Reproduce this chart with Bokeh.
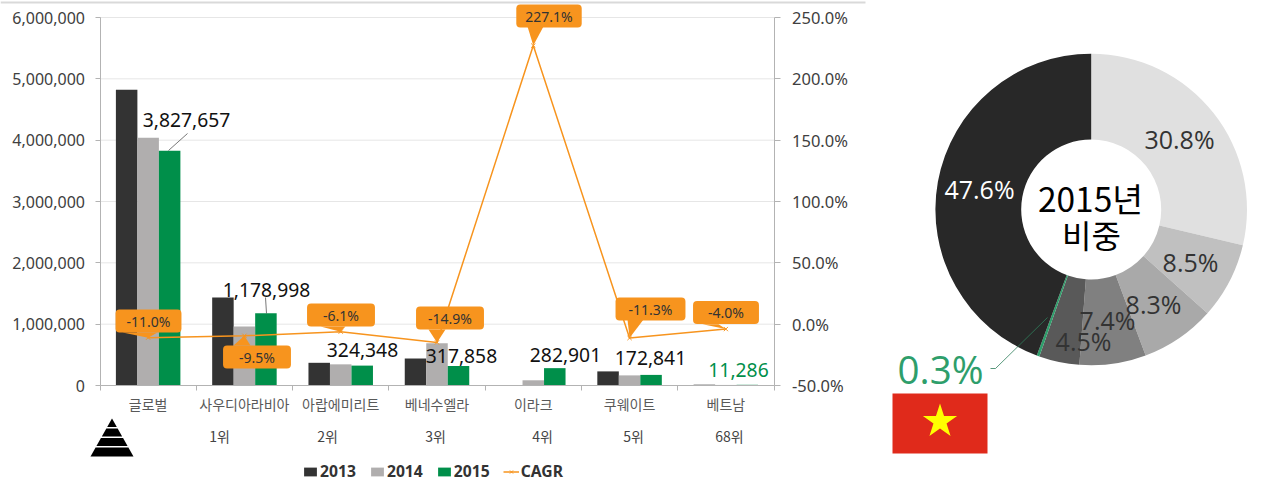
from bokeh.plotting import figure
from bokeh.models import (ColumnDataSource, Range1d, LinearAxis, FixedTicker, NumeralTickFormatter,
                          PrintfTickFormatter, Label, PolyAnnotation, Legend, LegendItem)
from bokeh.layouts import row
from bokeh.core.properties import value
from bokeh.embed import file_html
from bokeh.resources import INLINE
import math

categories = ["글로벌", "사우디아라비아", "아랍에미리트", "베네수엘라", "이라크", "쿠웨이트", "베트남"]
ranks = ["1위", "2위", "3위", "4위", "5위", "68위"]
v2013 = [4820000, 1435000, 370000, 440000, 0, 230000, 13000]
v2014 = [4040000, 960000, 345000, 690000, 85000, 165000, 9000]
v2015 = [3827657, 1178998, 324348, 317858, 282901, 172841, 11286]
cagr = [-11.0, -9.5, -6.1, -14.9, 227.1, -11.3, -4.0]
left_ticks = [0, 1000000, 2000000, 3000000, 4000000, 5000000, 6000000]
right_ticks = [-50, 0, 50, 100, 150, 200, 250]
share_labels = ["30.8%", "8.5%", "8.3%", "7.4%", "4.5%", "0.3%", "47.6%"]
shares = [30.8, 8.5, 8.3, 7.4, 4.5, 0.3, 47.6]

KR = "Noto Sans CJK KR"
LAT = "Noto Sans"
ORANGE = "#f7941e"
GREEN = "#008f4a"
AXC = "#b3b3b3"

# page-pixel geometry of the chart area; the figure's frame fills the whole canvas
FL, FR, FT, FB = 99.5, 773.5, 17, 385
W_L, H = 870, 490
pxu = (FR - FL) / 7
pyu = (FB - FT) / 6000000
pcu = (FB - FT) / 300
def X(px): return (px - FL) / pxu
def Y(py): return (FB - py) / pyu

p = figure(width=W_L, height=H, output_backend="svg", toolbar_location=None,
           x_range=Range1d(X(0), X(W_L)), y_range=Range1d(Y(H), Y(0)),
           min_border=0)
p.outline_line_color = None
p.extra_y_ranges = {"cagr": Range1d(-50 - (H - FB) / pcu, -50 + FB / pcu)}
p.grid.visible = False

# axes
ax = p.xaxis[0]
ax.fixed_location = 0
ax.bounds = (0, 7)
ax.ticker = FixedTicker(ticks=[i + 0.5 for i in range(7)], minor_ticks=list(range(8)))
ax.major_label_overrides = {i + 0.5: c for i, c in enumerate(categories)}
ax.major_tick_out = 0; ax.major_tick_in = 0
ax.minor_tick_out = 5; ax.minor_tick_in = 0
ax.minor_tick_line_color = AXC
ax.axis_line_color = AXC
ax.major_label_text_font = KR
ax.major_label_text_font_size = "14px"
ax.major_label_text_color = "#595959"
ax.major_label_standoff = 3
ay = p.yaxis[0]
ay.fixed_location = 0
ay.bounds = (0, 6000000)
ay.ticker = FixedTicker(ticks=left_ticks)
ay.formatter = NumeralTickFormatter(format="0,0")
ay.minor_tick_line_color = None
ay.major_tick_out = 5; ay.major_tick_in = 0
ay.major_tick_line_color = AXC
ay.axis_line_color = AXC
ay.major_label_text_font = LAT
ay.major_label_text_font_size = "16px"
ay.major_label_text_color = "#404040"
ay.major_label_standoff = 10
ar = LinearAxis(y_range_name="cagr", ticker=FixedTicker(ticks=right_ticks), fixed_location=7,
                bounds=(-50, 250), formatter=PrintfTickFormatter(format="%.1f%%"))
ar.minor_tick_line_color = None
ar.major_tick_out = 6; ar.major_tick_in = 0
ar.major_tick_line_color = AXC
ar.axis_line_color = AXC
ar.major_label_text_font = LAT
ar.major_label_text_font_size = "16.5px"
ar.major_label_text_color = "#404040"
ar.major_label_standoff = 12
p.add_layout(ar, "right")

# gridlines between the two value axes
p.segment(x0=[0] * 6, x1=[7] * 6, y0=left_ticks[1:], y1=left_ticks[1:], line_color="#e6e6e6", line_width=1, level="underlay")

# bars
centers = [i + 0.5 for i in range(7)]
bw = 21.5 / pxu
r13 = p.vbar(x=[c - bw for c in centers], top=v2013, width=bw, fill_color="#333333", line_color=None)
r14 = p.vbar(x=centers, top=v2014, width=bw, fill_color="#b0aeae", line_color=None)
r15 = p.vbar(x=[c + bw for c in centers], top=v2015, width=bw, fill_color=GREEN, line_color=None)

# CAGR line
rl = p.line(centers, cagr, y_range_name="cagr", line_color=ORANGE, line_width=1.5)
rm = p.scatter(centers, cagr, y_range_name="cagr", marker="x", size=6, line_color=ORANGE, line_width=1)

# leader lines for the value labels
p.segment(x0=[X(168), X(266)], y0=[Y(150), Y(313)], x1=[X(187), X(265)], y1=[Y(133), Y(297)],
          line_color="#555555", line_width=0.8)

# value labels
lab_px = [186, 266, 362, 461, 565, 650, 738]
lab_py = [119, 289, 349, 355, 354, 357, 369]
src = ColumnDataSource(dict(x=[X(a) for a in lab_px], y=[Y(b) for b in lab_py],
                            t=[f"{v:,}" for v in v2015],
                            c=["#111111"] * 6 + [GREEN]))
p.text(x="x", y="y", text="t", text_color="c", source=src, text_align="center", text_baseline="middle",
       text_font=value(LAT), text_font_size="19.3px", level="annotation")

# callouts: box centre and tail, tip sits on each CAGR point
tips_y = [FB - (c + 50) * pcu for c in cagr]
box_cx = [148, 256.5, 340.5, 449.5, 548.5, 650, 725.5]
box_cy = [320.5, 356.5, 314.5, 317.5, 15.5, 308.5, 312]
box_pad = [11, 16, 16, 12, 9, 13, 15]
tail_a = [(122, 332), (233, 345), (320, 326), (428, 329), (527, 26), (627, 319), (702, 323.7)]
tail_b = [(157, 332), (250, 345), (345, 326), (445, 329), (543, 26), (643, 319), (718, 323.7)]
for i, c in enumerate(cagr):
    tx, ty = FL + centers[i] * pxu, tips_y[i]
    a, b = tail_a[i], tail_b[i]
    p.add_layout(PolyAnnotation(xs=[X(a[0]), X(tx), X(b[0])], ys=[Y(a[1]), Y(ty), Y(b[1])],
                                fill_color=ORANGE, fill_alpha=1, line_color=None, level="overlay"))
    p.add_layout(Label(x=X(box_cx[i]), y=Y(box_cy[i]), text=f"{c:.1f}%", text_align="center", text_baseline="middle",
                       text_font=LAT, text_font_size="14px", text_color="#333333",
                       background_fill_color=ORANGE, background_fill_alpha=1, border_radius=4,
                       padding=(box_pad[i], 2), level="overlay"))

# rank row
rank_px = [219, 327, 435, 542, 633, 729]
for r, xp in zip(ranks, rank_px):
    p.add_layout(Label(x=X(xp), y=Y(435), text=r, text_align="center", text_baseline="middle",
                       text_font=KR, text_font_size="14px", text_color="#444444"))

# pyramid icon
for y0, y1 in [(418, 426.5), (428, 436), (437.5, 445.5), (447, 456)]:
    hw0 = (y0 - 418) * 21.5 / 38
    hw1 = (y1 - 418) * 21.5 / 38
    p.add_layout(PolyAnnotation(xs=[X(111.5 - hw0), X(111.5 + hw0), X(111.5 + hw1), X(111.5 - hw1)],
                                ys=[Y(y0), Y(y0), Y(y1), Y(y1)],
                                fill_color="#000000", fill_alpha=1, line_color=None))

# top rule
p.add_layout(PolyAnnotation(xs=[X(0), X(865), X(865), X(0)], ys=[Y(1), Y(1), Y(3), Y(3)],
                            fill_color="#d9d9d9", fill_alpha=1, line_color=None))

leg = Legend(items=[LegendItem(label="2013", renderers=[r13]), LegendItem(label="2014", renderers=[r14]),
                    LegendItem(label="2015", renderers=[r15]), LegendItem(label="CAGR", renderers=[rl, rm])],
             orientation="horizontal", location=(302, 8), background_fill_alpha=0, border_line_color=None,
             glyph_width=16, glyph_height=11, label_standoff=2, spacing=13, padding=0, margin=0,
             label_text_font=LAT, label_text_font_style="bold", label_text_font_size="15.7px",
             label_text_color="#333333")
p.add_layout(leg, "center")

# donut
W_R = 1279 - W_L
d = figure(width=W_R, height=H, output_backend="svg", toolbar_location=None,
           x_range=Range1d(W_L, 1279), y_range=Range1d(0, H),
           x_axis_location=None, y_axis_location=None, min_border=0)
d.grid.visible = False
d.outline_line_color = None
def YY(py): return H - py
CX, CY, RO, RI = 1090.7, 209, 155.8, 70
colors = ["#e0e0e0", "#c0c0c0", "#a9a9a9", "#808080", "#595959", "#2e9e6b", "#282828"]
total = sum(shares)
ang = [math.pi / 2]
for s in shares:
    ang.append(ang[-1] - 2 * math.pi * s / total)
d.annular_wedge(x=CX, y=YY(CY), inner_radius=RI, outer_radius=RO, start_angle=ang[:-1], end_angle=ang[1:],
                direction="clock", fill_color=colors, line_color=None)
d.line([1047, 995, 990], [YY(317), YY(368), YY(368)], line_color="#2e7d5b", line_width=0.8)
lab_x = [1179, 1190, 1153, 1107, 1083, 940, 979]
lab_y = [138, 261, 303, 319, 340, 368, 188]
lab_c = ["#333333"] * 5 + ["#2e9e6b", "#ffffff"]
lab_s = ["25px"] * 5 + ["38.5px", "25px"]
for t, a, b, c, s in zip(share_labels, lab_x, lab_y, lab_c, lab_s):
    d.text(x=[a], y=[YY(b)], text=[t], text_color=c, text_font=value("Open Sans"), text_font_size=s,
           text_align="center", text_baseline="middle")
d.text(x=[1090], y=[YY(197)], text=["2015년"], text_color="#000000",
       text_font=value(KR), text_font_size="33.5px", text_align="center", text_baseline="middle")
d.text(x=[1091], y=[YY(233)], text=["비중"], text_color="#000000",
       text_font=value(KR), text_font_size="32px", text_align="center", text_baseline="middle")
d.quad(left=892, right=987, top=YY(393), bottom=YY(453), fill_color="#e02a1b", line_color=None)
d.star(x=[939.5], y=[YY(421)], size=36, fill_color="#ffff00", line_color=None)

layout = row(p, d)
open("out.html", "w").write(file_html(layout, INLINE))
